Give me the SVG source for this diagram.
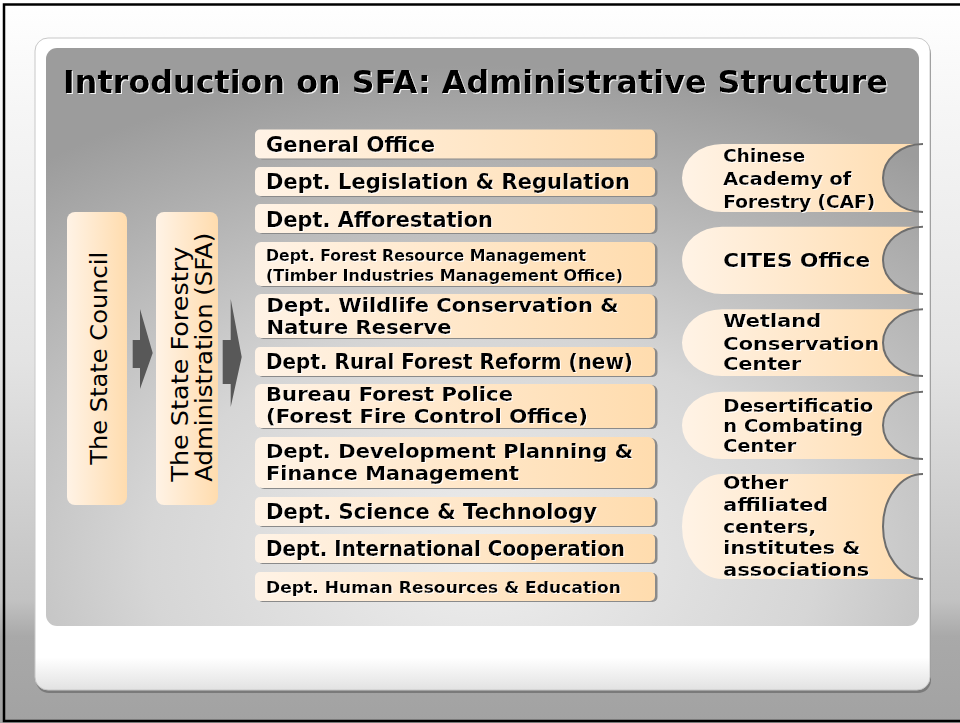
<svg xmlns="http://www.w3.org/2000/svg" width="960" height="723" viewBox="0 0 960 723">
<defs>
<linearGradient id="bg" x1="0" y1="0" x2="0" y2="1">
<stop offset="0" stop-color="#ffffff"/>
<stop offset="0.15" stop-color="#f6f6f6"/>
<stop offset="0.5" stop-color="#e3e3e3"/>
<stop offset="0.83" stop-color="#c2c2c2"/>
<stop offset="0.88" stop-color="#a9a9a9"/>
<stop offset="1" stop-color="#a2a2a2"/>
</linearGradient>
<linearGradient id="card" x1="0" y1="0" x2="0" y2="1">
<stop offset="0" stop-color="#ffffff"/>
<stop offset="0.95" stop-color="#ffffff"/>
<stop offset="1" stop-color="#e2e2e2"/>
</linearGradient>
<radialGradient id="panel" cx="0.5" cy="0.88" r="0.85">
<stop offset="0" stop-color="#eeeeee"/>
<stop offset="0.45" stop-color="#d6d6d6"/>
<stop offset="1" stop-color="#9c9c9c"/>
</radialGradient>
<linearGradient id="peach" x1="0" y1="0" x2="1" y2="0">
<stop offset="0" stop-color="#fff3e6"/>
<stop offset="1" stop-color="#ffdcae"/>
</linearGradient>
<filter id="halo" x="-5%" y="-20%" width="110%" height="140%">
<feDropShadow dx="1" dy="1" stdDeviation="0" flood-color="#ffffff" flood-opacity="0.9"/>
</filter>
<style>
.box{fill:url(#peach);}
.sh{fill:#8a8a8a;}
.dept{font-family:"DejaVu Sans","Verdana",sans-serif;font-weight:bold;font-size:20.5px;fill:#000;filter:url(#halo);}
.two{font-size:19px;}
.sm{font-size:15px;}
.hr{font-size:16.5px;}
.tab{font-family:"DejaVu Sans","Verdana",sans-serif;font-weight:bold;fill:#000;filter:url(#halo);}
.vert{font-family:"DejaVu Sans","Verdana",sans-serif;font-size:22.5px;fill:#000;}
.arc{fill:none;stroke:#6e6e6e;stroke-width:2;}
.arrow{fill:#585858;}
</style>
</defs>

<rect x="0" y="0" width="960" height="723" fill="url(#bg)"/>
<rect x="4" y="4.5" width="1000" height="716.5" fill="none" stroke="#000" stroke-width="2.5"/>

<rect x="36" y="41" width="895" height="652" rx="13" fill="#7a7a7a"/>
<rect x="35" y="38" width="895" height="652" rx="13" fill="url(#card)" stroke="#c8c8c8" stroke-width="1"/>
<rect x="46" y="48" width="873" height="578" rx="11" fill="url(#panel)"/>

<text x="63" y="93" font-family="'DejaVu Sans', Verdana, sans-serif" font-weight="bold" font-size="31.5" textLength="825" lengthAdjust="spacingAndGlyphs" filter="url(#halo)">Introduction on SFA: Administrative Structure</text>

<g id="state-council">
<rect x="67" y="212" width="60" height="293" rx="8" class="box"/>
<text class="vert" transform="translate(106.5,358.3) rotate(-90)" text-anchor="middle" textLength="213" lengthAdjust="spacingAndGlyphs">The State Council</text>
</g>

<g id="sfa">
<rect x="156" y="212" width="62" height="293" rx="8" class="box"/>
<text class="vert" transform="translate(188.3,481.7) rotate(-90)" textLength="235" lengthAdjust="spacingAndGlyphs">The State Forestry</text>
<text class="vert" transform="translate(211.7,481.7) rotate(-90)" textLength="249" lengthAdjust="spacingAndGlyphs">Administration (SFA)</text>
</g>

<g id="connectors">
<polygon class="arrow" points="132.7,340 140,340 140,309 152.7,353 140,389 140,368 132.7,368"/>
<polygon class="arrow" points="222.7,340 230.7,340 230.7,299 241.7,357 230.7,407 230.7,384 222.7,384"/>
</g>

<g id="dept-general-office">
<rect x="257.5" y="130.5" width="400" height="29" rx="5" class="sh"/>
<rect x="255" y="129.5" width="400" height="29" rx="5" class="box"/>
<text x="266" y="151.5" class="dept" textLength="169" lengthAdjust="spacingAndGlyphs">General Office</text>
</g>
<g id="dept-legislation">
<rect x="257.5" y="168" width="400" height="29" rx="5" class="sh"/>
<rect x="255" y="167" width="400" height="29" rx="5" class="box"/>
<text x="266" y="189" class="dept" textLength="364" lengthAdjust="spacingAndGlyphs">Dept. Legislation &amp; Regulation</text>
</g>
<g id="dept-afforestation">
<rect x="257.5" y="205" width="400" height="29" rx="5" class="sh"/>
<rect x="255" y="204" width="400" height="29" rx="5" class="box"/>
<text x="266" y="226.5" class="dept" textLength="227" lengthAdjust="spacingAndGlyphs">Dept. Afforestation</text>
</g>
<g id="dept-forest-resource">
<rect x="257.5" y="243" width="400" height="44" rx="6" class="sh"/>
<rect x="255" y="242" width="400" height="44" rx="6" class="box"/>
<text x="266" y="261" class="dept sm" textLength="320" lengthAdjust="spacingAndGlyphs">Dept. Forest Resource Management</text>
<text x="266" y="280.5" class="dept sm" textLength="357" lengthAdjust="spacingAndGlyphs">(Timber Industries Management Office)</text>
</g>
<g id="dept-wildlife">
<rect x="257.5" y="295" width="400" height="44" rx="6" class="sh"/>
<rect x="255" y="294" width="400" height="44" rx="6" class="box"/>
<text x="266.5" y="311.5" class="dept two" textLength="352" lengthAdjust="spacingAndGlyphs">Dept. Wildlife Conservation &amp;</text>
<text x="266.5" y="333.5" class="dept two" textLength="185" lengthAdjust="spacingAndGlyphs">Nature Reserve</text>
</g>
<g id="dept-rural-reform">
<rect x="257.5" y="348" width="400" height="29" rx="5" class="sh"/>
<rect x="255" y="347" width="400" height="29" rx="5" class="box"/>
<text x="266" y="369" class="dept" textLength="367" lengthAdjust="spacingAndGlyphs">Dept. Rural Forest Reform (new)</text>
</g>
<g id="bureau-forest-police">
<rect x="257.5" y="385" width="400" height="44" rx="6" class="sh"/>
<rect x="255" y="384" width="400" height="44" rx="6" class="box"/>
<text x="266" y="400.5" class="dept two" textLength="247" lengthAdjust="spacingAndGlyphs">Bureau Forest Police</text>
<text x="266" y="422.5" class="dept two" textLength="322" lengthAdjust="spacingAndGlyphs">(Forest Fire Control Office)</text>
</g>
<g id="dept-development-planning">
<rect x="257.5" y="438" width="400" height="51" rx="7" class="sh"/>
<rect x="255" y="437" width="400" height="51" rx="7" class="box"/>
<text x="266" y="458" class="dept two" textLength="367" lengthAdjust="spacingAndGlyphs">Dept. Development Planning &amp;</text>
<text x="266" y="480" class="dept two" textLength="253" lengthAdjust="spacingAndGlyphs">Finance Management</text>
</g>
<g id="dept-science">
<rect x="257.5" y="498" width="400" height="29" rx="5" class="sh"/>
<rect x="255" y="497" width="400" height="29" rx="5" class="box"/>
<text x="266" y="518.5" class="dept" textLength="331" lengthAdjust="spacingAndGlyphs">Dept. Science &amp; Technology</text>
</g>
<g id="dept-international">
<rect x="257.5" y="535" width="400" height="29" rx="5" class="sh"/>
<rect x="255" y="534" width="400" height="29" rx="5" class="box"/>
<text x="266" y="555.5" class="dept" textLength="359" lengthAdjust="spacingAndGlyphs">Dept. International Cooperation</text>
</g>
<g id="dept-human-resources">
<rect x="257.5" y="573" width="400" height="29" rx="5" class="sh"/>
<rect x="255" y="572" width="400" height="29" rx="5" class="box"/>
<text x="266" y="592.5" class="dept hr" textLength="355" lengthAdjust="spacingAndGlyphs">Dept. Human Resources &amp; Education</text>
</g>

<g id="caf">
<path class="box" d="M722,144 L923,144 A40 34 0 0 0 923,212 L722,212 A40 34 0 0 1 722,144 Z"/>
<path class="arc" d="M923,144 A40 34 0 0 0 923,212"/>
<text class="tab" font-size="17" x="723.3" y="161.7" textLength="82" lengthAdjust="spacingAndGlyphs">Chinese</text>
<text class="tab" font-size="17" x="723.3" y="185" textLength="128" lengthAdjust="spacingAndGlyphs">Academy of</text>
<text class="tab" font-size="17" x="723.3" y="208.3" textLength="152" lengthAdjust="spacingAndGlyphs">Forestry (CAF)</text>
</g>
<g id="cites">
<path class="box" d="M722,226.7 L923,226.7 A40 33.65 0 0 0 923,294 L722,294 A40 33.65 0 0 1 722,226.7 Z"/>
<path class="arc" d="M923,226.7 A40 33.65 0 0 0 923,294"/>
<text class="tab" font-size="19" x="723.3" y="267.3" textLength="147" lengthAdjust="spacingAndGlyphs">CITES Office</text>
</g>
<g id="wetland">
<path class="box" d="M722,309.3 L923,309.3 A40 33.35 0 0 0 923,376 L722,376 A40 33.35 0 0 1 722,309.3 Z"/>
<path class="arc" d="M923,309.3 A40 33.35 0 0 0 923,376"/>
<text class="tab" font-size="18.5" x="723.3" y="327.3" textLength="98" lengthAdjust="spacingAndGlyphs">Wetland</text>
<text class="tab" font-size="18.5" x="723.3" y="350" textLength="156" lengthAdjust="spacingAndGlyphs">Conservation</text>
<text class="tab" font-size="18.5" x="723.3" y="370" textLength="78" lengthAdjust="spacingAndGlyphs">Center</text>
</g>
<g id="desertification">
<path class="box" d="M722,391.7 L923,391.7 A40 33.65 0 0 0 923,459 L722,459 A40 33.65 0 0 1 722,391.7 Z"/>
<path class="arc" d="M923,391.7 A40 33.65 0 0 0 923,459"/>
<text class="tab" font-size="17" x="723.3" y="411.7" textLength="150" lengthAdjust="spacingAndGlyphs">Desertificatio</text>
<text class="tab" font-size="17" x="723.3" y="431.7" textLength="140" lengthAdjust="spacingAndGlyphs">n Combating</text>
<text class="tab" font-size="17" x="723.3" y="451.7" textLength="73" lengthAdjust="spacingAndGlyphs">Center</text>
</g>
<g id="other-affiliated">
<path class="box" d="M722,474 L923,474 A40 52.5 0 0 0 923,579 L722,579 A40 52.5 0 0 1 722,474 Z"/>
<path class="arc" d="M923,474 A40 52.5 0 0 0 923,579"/>
<text class="tab" font-size="18.5" x="723.3" y="489.3" textLength="65" lengthAdjust="spacingAndGlyphs">Other</text>
<text class="tab" font-size="18.5" x="723.3" y="510.7" textLength="105" lengthAdjust="spacingAndGlyphs">affiliated</text>
<text class="tab" font-size="18.5" x="723.3" y="532.7" textLength="93" lengthAdjust="spacingAndGlyphs">centers,</text>
<text class="tab" font-size="18.5" x="723.3" y="554" textLength="137" lengthAdjust="spacingAndGlyphs">institutes &amp;</text>
<text class="tab" font-size="18.5" x="723.3" y="576" textLength="146" lengthAdjust="spacingAndGlyphs">associations</text>
</g>
</svg>
